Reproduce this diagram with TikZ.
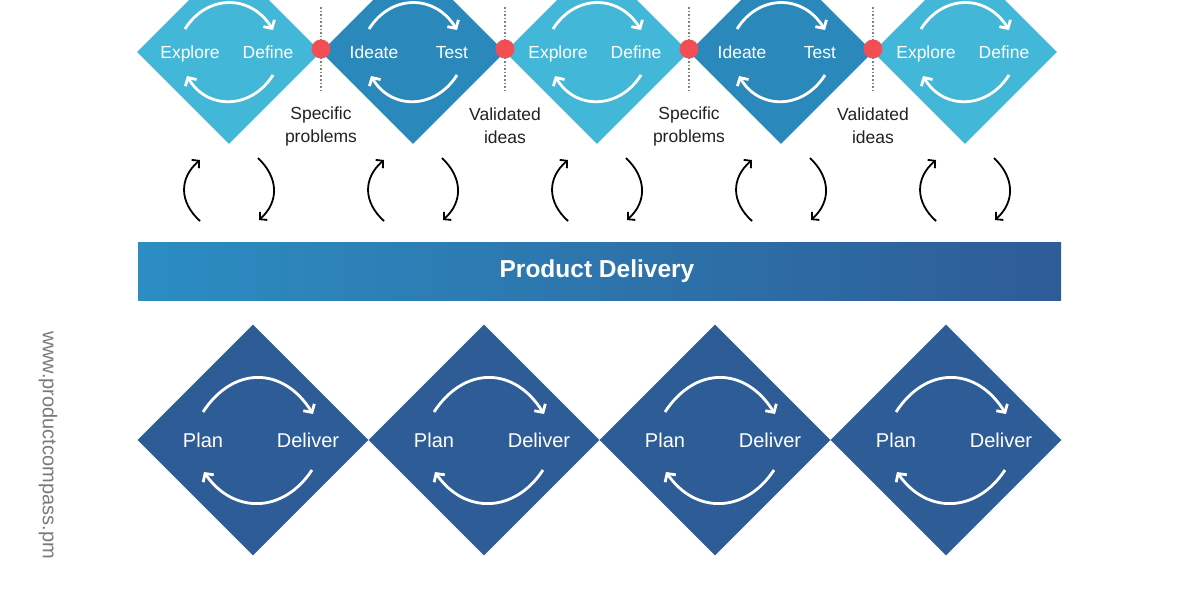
\documentclass[tikz,border=0pt]{standalone}
\usepackage{fontspec}
\setmainfont{Liberation Sans}
\usetikzlibrary{shapes.geometric,arrows.meta}
\definecolor{lightc}{HTML}{43B7D7}
\definecolor{midc}{HTML}{2A88BA}
\definecolor{darkc}{HTML}{2E5C97}
\definecolor{barl}{HTML}{2B8DC2}
\definecolor{redc}{HTML}{F24E56}
\definecolor{txt}{HTML}{222222}
\definecolor{urlc}{HTML}{7A7A7A}
\tikzset{
  topdia/.style={diamond, aspect=1, minimum width=184pt, minimum height=184pt, inner sep=0pt, draw=none},
  botdia/.style={diamond, aspect=1, minimum width=231pt, minimum height=231pt, inner sep=0pt, draw=none, fill=darkc},
  toplbl/.style={text=white, font=\fontsize{17.5}{21}\selectfont, inner sep=0pt, text height=12.6pt, text depth=0pt},
  botlbl/.style={text=white, font=\fontsize{20}{24}\selectfont, inner sep=0pt, text height=14.4pt, text depth=0pt},
  mslbl/.style={text=txt, font=\fontsize{17.5}{23}\selectfont, align=center, inner sep=0pt},
  warrow/.style={draw=white, line width=2.8pt, -{Straight Barb[length=6pt,width=13pt]}},
  barrow/.style={draw=black, line width=1.8pt, -{Straight Barb[length=5pt,width=11pt]}},
  dotline/.style={draw=gray, line width=1.6pt, dotted},
  reddot/.style={circle, fill=redc, minimum size=19pt, inner sep=0pt, draw=none},
}
\begin{document}
\begin{tikzpicture}[x=1pt,y=-1pt]
\useasboundingbox (0,0) rectangle (1200,600);
\clip (0,0) rectangle (1200,600);
\fill[white] (0,0) rectangle (1200,600);

% top diamonds
\foreach \i/\x/\c/\la/\lb in {1/229/lightc/Explore/Define, 2/413/midc/Ideate/Test, 3/597/lightc/Explore/Define, 4/781/midc/Ideate/Test, 5/965/lightc/Explore/Define}{
  \node[topdia, fill=\c] (t\i) at (\x,52) {};
  \node[toplbl] (ta\i) at (\x-39,52) {\la};
  \node[toplbl] (tb\i) at (\x+39,52) {\lb};
  \begin{scope}[shift={(t\i.center)}]
    \draw[warrow] (-44,-23) .. controls (-22,-58) and (22,-58) .. (44,-22);
    \draw[warrow] (44,23) .. controls (22,58) and (-22,58) .. (-42,24);
  \end{scope}
  % black curved arrows below
  \begin{scope}[shift={(\x,190)}]
    \draw[barrow] (-29,31) .. controls (-50,12) and (-50,-12) .. (-29,-30);
    \draw[barrow] (29,-32) .. controls (50,-12) and (50,12) .. (30,30);
  \end{scope}
}

% milestones
\foreach \j/\x/\txtm in {1/321/{Specific\\problems}, 2/505/{Validated\\ideas}, 3/689/{Specific\\problems}, 4/873/{Validated\\ideas}}{
  \coordinate (da\j) at (\x,7);
  \coordinate (db\j) at (\x,90);
  \draw[dotline] (da\j) -- (db\j);
  \node[reddot] (r\j) at (\x,49) {};
  \node[mslbl] (m\j) at (\x,126) {\txtm};
}

% product delivery bar
\shade[left color=barl, right color=darkc] (138,242) rectangle (1061,300);
\node[text=white, font=\fontsize{24.5}{28}\selectfont\bfseries, inner sep=0pt] (pd) at (597,271) {Product Delivery};

% bottom diamonds
\foreach \i/\x in {1/253, 2/484, 3/715, 4/946}{
  \node[botdia] (b\i) at (\x,440) {};
  \node[botlbl] (ba\i) at (\x-50,440) {Plan};
  \node[botlbl] (bb\i) at (\x+55,440) {Deliver};
  \begin{scope}[shift={(b\i.center)}]
    \draw[warrow] (-50,-28) .. controls (-20,-74) and (30,-74) .. (60,-26);
    \draw[warrow] (59,30) .. controls (30,74) and (-20,74) .. (-49,32);
  \end{scope}
}

% url
\node[rotate=-90, text=urlc, font=\fontsize{20}{24}\selectfont, inner sep=0pt] (url) at (48,445) {www.productcompass.pm};
\end{tikzpicture}
\end{document}
